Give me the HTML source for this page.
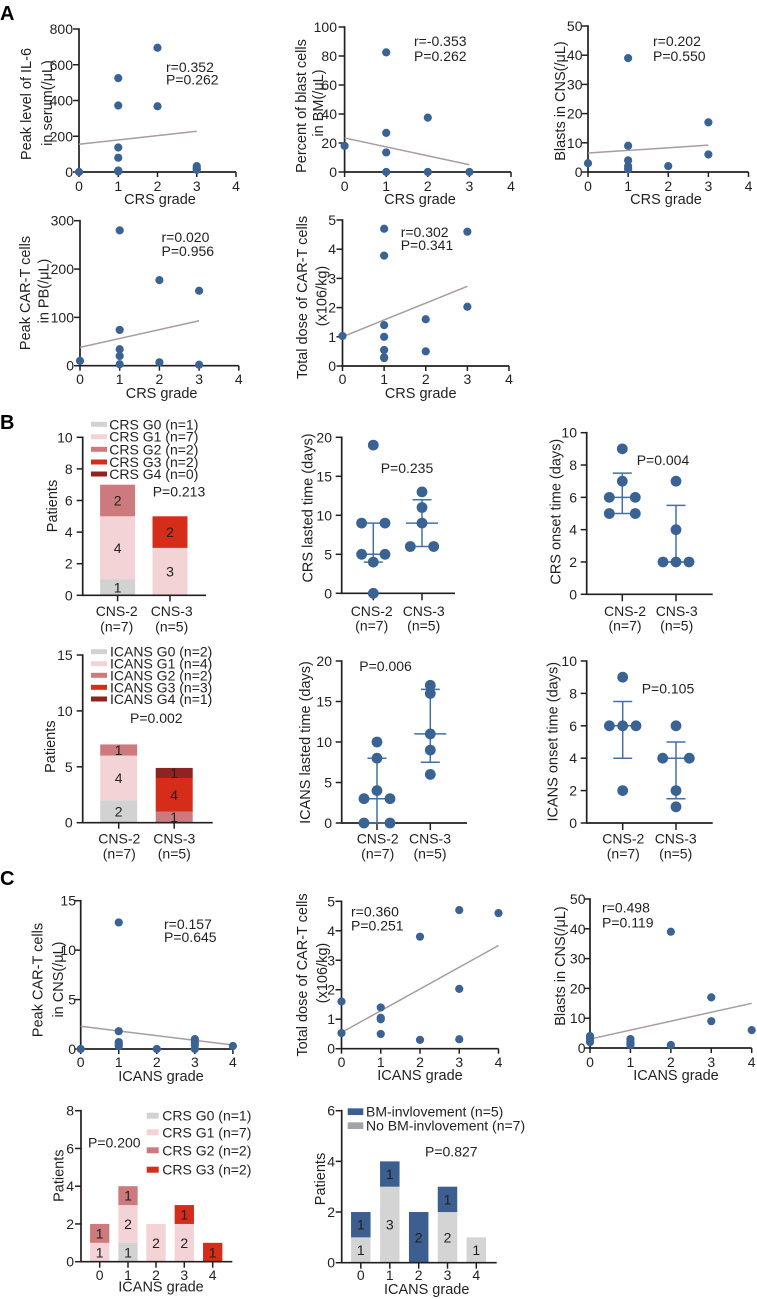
<!DOCTYPE html>
<html lang="en">
<head>
<meta charset="utf-8">
<title>CRS and ICANS correlation figure</title>
<style>
html,body{margin:0;padding:0;background:#fff;width:757px;height:1299px;overflow:hidden}
svg{display:block;font-family:"Liberation Sans",sans-serif;font-size:14px;fill:#231f20}
</style>
</head>
<body>
<svg id="fig" xmlns="http://www.w3.org/2000/svg" width="757" height="1299" viewBox="0 0 757 1299"></svg>
<script>
/* ---------- shared tick / category arrays ---------- */
const gradeTicks = [0, 1, 2, 3, 4];
const cnsCategories = ["CNS-2", "CNS-3"];
const cnsCounts = ["(n=7)", "(n=5)"];

/* ---------- panel A ---------- */
const a1X = [0, 1, 1, 1, 1, 1, 1, 2, 2, 3, 3, 3];
const a1Y = [0, 525, 372, 137, 80, 8, 3, 695, 368, 33, 20, 12];
const a1FitX = [0, 3];
const a1FitY = [155, 228];
const a1Ticks = [0, 200, 400, 600, 800];

const a2X = [0, 1, 1, 1, 1, 2, 2, 3];
const a2Y = [18, 82.5, 27, 13.5, 0, 37.5, 0, 0];
const a2FitX = [0, 3];
const a2FitY = [23.5, 5];
const a2Ticks = [0, 20, 40, 60, 80, 100];

const a3X = [0, 1, 1, 1, 1, 1, 2, 3, 3];
const a3Y = [3, 39, 9, 4, 2, 1, 2, 17, 6];
const a3FitX = [0, 3];
const a3FitY = [6.5, 9.2];
const a3Ticks = [0, 10, 20, 30, 40, 50];

const a4X = [0, 1, 1, 1, 1, 1, 2, 2, 3, 3];
const a4Y = [10, 280, 74, 34, 20, 3, 177, 7, 155, 2];
const a4FitX = [0, 3];
const a4FitY = [38, 93];
const a4Ticks = [0, 100, 200, 300];

const a5X = [0, 1, 1, 1, 1, 1, 1, 1, 2, 2, 3, 3];
const a5Y = [1.03, 4.7, 3.78, 1.4, 1.0, 0.55, 0.3, 0.27, 1.6, 0.5, 4.6, 2.03];
const a5FitX = [0, 3];
const a5FitY = [1.0, 2.73];
const a5Ticks = [0, 1, 2, 3, 4, 5];

/* ---------- panel B ---------- */
const b1G0 = [1, 0];
const b1G1 = [4, 3];
const b1G2 = [2, 0];
const b1G3 = [0, 2];
const b1Ticks = [0, 2, 4, 6, 8, 10];
const b1Legend = ["CRS G0 (n=1)", "CRS G1 (n=7)", "CRS G2 (n=2)", "CRS G3 (n=2)", "CRS G4 (n=0)"];

const b2Cns2 = [19, 9, 9, 5, 5, 4, 0];
const b2Cns3 = [13, 11, 9, 6, 6];
const b2Median = [5, 9];
const b2Lower = [4, 6];
const b2Upper = [9, 12];
const b2Ticks = [0, 5, 10, 15, 20];

const b3Cns2 = [9, 7, 6, 6, 5, 5];
const b3Cns3 = [7, 4, 2, 2, 2];
const b3Median = [6, 2];
const b3Lower = [5, 2];
const b3Upper = [7.5, 5.5];
const b3Ticks = [0, 2, 4, 6, 8, 10];

const b4G0 = [2, 0];
const b4G1 = [4, 0];
const b4G2 = [1, 1];
const b4G3 = [0, 3];
const b4G4 = [0, 0.9];
const b4G3Printed = ["", "4"];
const b4Ticks = [0, 5, 10, 15];
const b4Legend = ["ICANS G0 (n=2)", "ICANS G1 (n=4)", "ICANS G2 (n=2)", "ICANS G3 (n=3)", "ICANS G4 (n=1)"];

const b5Cns2 = [10, 8, 4, 3, 3, 0, 0];
const b5Cns3 = [17, 16, 11, 9, 6];
const b5Median = [3, 11];
const b5Lower = [0, 7.5];
const b5Upper = [8, 16.5];
const b5Ticks = [0, 5, 10, 15, 20];

const b6Cns2 = [9, 6, 6, 6, 2];
const b6Cns3 = [6, 4, 4, 2, 1];
const b6Median = [6, 4];
const b6Lower = [4, 1.5];
const b6Upper = [7.5, 5];
const b6Ticks = [0, 2, 4, 6, 8, 10];

/* ---------- panel C ---------- */
const c1X = [0, 1, 1, 1, 1, 1, 2, 3, 3, 3, 3, 4];
const c1Y = [0, 12.8, 1.8, 0.7, 0.5, 0.3, 0, 1, 0.7, 0.4, 0, 0.3];
const c1FitX = [0, 4];
const c1FitY = [2.3, 0.4];
const c1Ticks = [0, 5, 10, 15];

const c2X = [0, 0, 1, 1, 1, 1, 2, 2, 3, 3, 3, 4];
const c2Y = [1.6, 0.53, 1.4, 1.05, 1, 0.5, 3.8, 0.3, 4.7, 2.03, 0.32, 4.6];
const c2FitX = [0, 4];
const c2FitY = [0.55, 3.5];
const c2Ticks = [0, 1, 2, 3, 4, 5];

const c3X = [0, 0, 0, 1, 1, 1, 1, 2, 2, 3, 3, 4];
const c3Y = [4, 3, 2, 3, 2, 1.5, 1, 39, 1, 17, 9, 6];
const c3FitX = [0, 4];
const c3FitY = [3, 15];
const c3Ticks = [0, 10, 20, 30, 40, 50];

const c4G0 = [0, 1, 0, 0, 0];
const c4G1 = [1, 2, 2, 2, 0];
const c4G2 = [1, 1, 0, 0, 0];
const c4G3 = [0, 0, 0, 1, 1];
const c4Ticks = [0, 2, 4, 6, 8];
const c4Legend = ["CRS G0 (n=1)", "CRS G1 (n=7)", "CRS G2 (n=2)", "CRS G3 (n=2)"];

const c5NoBm = [1, 3, 0, 2, 1];
const c5Bm = [1, 1, 2, 1, 0];
const c5Ticks = [0, 2, 4, 6];
const c5Legend = ["BM-invlovement (n=5)", "No BM-invlovement (n=7)"];

/* ---------- styling ---------- */
const INK = "#231f20", DOT = "#3a6393", FIT = "#a99b9f", ERR = "#4470a3";
const G0 = "#d2d2d2", G1 = "#f3d3d6", G2 = "#cc7a7e", G3 = "#d62c1a", G4 = "#8f2321";
const BM = "#3c5f8f", NOBM = "#d4d4d4", NOBMKEY = "#a3a3a7";
const NS = "http://www.w3.org/2000/svg";
const root = document.getElementById("fig");

function el(parent, tag, attrs, name) {
  const e = document.createElementNS(NS, tag);
  for (const k in attrs) e.setAttribute(k, attrs[k]);
  
  
  parent.appendChild(e);
  return e;
}
function txt(parent, str, x, y, anchor, name, extra) {
  const e = el(parent, "text", Object.assign({x: x, y: y, "text-anchor": anchor || "start"}, extra || {}), name);
  e.textContent = str;
  return e;
}
function vtxt(parent, str, x, cy, name) {
  return txt(parent, str, x, cy, "middle", name, {transform: "rotate(-90 " + x + " " + cy + ")", "font-size": "14.5"});
}
function group(name) { return el(root, "g", {}, name); }
function line(parent, x1, y1, x2, y2, stroke, w, name) {
  return el(parent, "line", {x1: x1, y1: y1, x2: x2, y2: y2, stroke: stroke, "stroke-width": w}, name);
}
function linScale(d0, d1, r0, r1) { return v => r0 + (v - d0) / (d1 - d0) * (r1 - r0); }

function yAxis(g, axisX, yScale, ticks, labelRight, top, bottom) {
  line(g, axisX, top - 0.8, axisX, bottom + 0.8, INK, 1.7, "y-axis-line");
  ticks.forEach(t => {
    const y = yScale(t);
    line(g, axisX - 6, y, axisX, y, INK, 1.5, "y-tick");
    txt(g, String(t), labelRight, y + 5, "end", "y-tick-label");
  });
}

/* scatter with regression line */
function scatter(name, c, xs, ys, fitX, fitY, yTicks) {
  const g = group(name);
  const sx = linScale(0, 4, c.x0, c.x4);
  const sy = linScale(yTicks[0], yTicks[yTicks.length - 1], c.y0, c.top);
  yAxis(g, c.x0, sy, yTicks, c.labelRight, c.top, c.y0);
  line(g, c.x0, c.y0, c.x4, c.y0, INK, 1.7, "x-axis-line");
  gradeTicks.forEach(t => {
    line(g, sx(t), c.y0, sx(t), c.y0 + 5, INK, 1.5, "x-tick");
    txt(g, String(t), sx(t), c.tickBase, "middle", "x-tick-label");
  });
  line(g, sx(fitX[0]), sy(fitY[0]), sx(fitX[1]), sy(fitY[1]), FIT, 1.5, "regression-line");
  xs.forEach((x, i) => {
    el(g, "ellipse", {cx: sx(x), cy: sy(ys[i]), rx: 4.1, ry: 4.1, fill: DOT}, "data-point");
  });
  txt(g, c.xTitle, c.titleX, c.titleBase, "middle", "x-axis-title", {"font-size": "14.5"});
  c.yTitle.forEach(t => vtxt(g, t[0], t[1], t[2], "y-axis-title"));
  txt(g, c.r, c.statX, c.statY[0], "start", "correlation-r");
  txt(g, c.p, c.statX, c.statY[1], "start", "p-value");
}

/* dot plot with median and interquartile bars */
function swarmOffsets(vals, spread) {
  return vals.map((v, i) => {
    const same = vals.map((o, j) => o === v ? j : -1).filter(j => j >= 0);
    const k = same.indexOf(i), n = same.length;
    if (n === 1) return 0;
    if (n === 2) return k === 0 ? -spread : spread;
    return (k - (n - 1) / 2) * spread;
  });
}
function dotPlot(name, c, groups, medians, lowers, uppers, yTicks) {
  const g = group(name);
  const sy = linScale(yTicks[0], yTicks[yTicks.length - 1], c.y0, c.top);
  yAxis(g, c.x0, sy, yTicks, c.labelRight, c.top, c.y0);
  line(g, c.x0, c.y0, c.xEnd, c.y0, INK, 1.7, "x-axis-line");
  cnsCategories.forEach((cat, i) => {
    line(g, c.cats[i], c.y0, c.cats[i], c.y0 + 7, INK, 1.5, "x-tick");
    txt(g, cat, c.labelX[i], c.catBase[0], "middle", "category-label");
    txt(g, cnsCounts[i], c.labelX[i], c.catBase[1], "middle", "category-count");
    line(g, c.cats[i], sy(uppers[i]), c.cats[i], sy(lowers[i]), ERR, 1.5, "error-bar-stem");
    line(g, c.cats[i] - 9.5, sy(uppers[i]), c.cats[i] + 9.5, sy(uppers[i]), ERR, 1.5, "error-bar-upper-cap");
    line(g, c.cats[i] - 9.5, sy(lowers[i]), c.cats[i] + 9.5, sy(lowers[i]), ERR, 1.5, "error-bar-lower-cap");
    line(g, c.cats[i] - 16, sy(medians[i]), c.cats[i] + 16, sy(medians[i]), ERR, 1.5, "median-line");
    const off = swarmOffsets(groups[i], c.spread);
    groups[i].forEach((v, j) => {
      el(g, "circle", {cx: c.cats[i] + off[j], cy: sy(v), r: 5.4, fill: DOT}, "data-point");
    });
  });
  vtxt(g, c.yTitle[0], c.yTitle[1], c.yTitle[2], "y-axis-title");
  txt(g, c.p, c.pX, c.pY, "start", "p-value");
}

/* stacked bars */
function stacked(name, c, cats, series, yTicks) {
  const g = group(name);
  const sy = linScale(yTicks[0], yTicks[yTicks.length - 1], c.y0, c.top);
  cats.forEach((cat, i) => {
    let base = 0;
    series.forEach(s => {
      const v = s.values[i];
      if (!v) return;
      el(g, "rect", {x: c.barX[i] - c.barW / 2, y: sy(base + v), width: c.barW, height: sy(base) - sy(base + v), fill: s.color}, "bar-segment");
      const printed = s.printed ? s.printed[i] : String(Math.ceil(v));
      txt(g, printed, c.barX[i], (sy(base) + sy(base + v)) / 2 + 5, "middle", "bar-value-label");
      base += v;
    });
  });
  yAxis(g, c.x0, sy, yTicks, c.labelRight, c.top, c.y0);
  line(g, c.x0, c.y0, c.xEnd, c.y0, INK, 1.7, "x-axis-line");
  cats.forEach((cat, i) => {
    line(g, c.barX[i], c.y0, c.barX[i], c.y0 + 6, INK, 1.5, "x-tick");
    txt(g, cat, c.labelX[i], c.catBase[0], "middle", "category-label");
    if (c.counts) txt(g, c.counts[i], c.labelX[i], c.catBase[1], "middle", "category-count");
  });
  if (c.xTitle) txt(g, c.xTitle, c.titleX, c.titleBase, "middle", "x-axis-title", {"font-size": "14.5"});
  vtxt(g, c.yTitle[0], c.yTitle[1], c.yTitle[2], "y-axis-title");
  txt(g, c.p, c.pX, c.pY, "start", "p-value");
  c.legend.labels.forEach((lab, i) => {
    const ly = c.legend.ys[i];
    el(g, "rect", {x: c.legend.x, y: ly - c.legend.h / 2, width: c.legend.w, height: c.legend.h, fill: c.legend.colors[i]}, "legend-swatch");
    txt(g, lab, c.legend.textX[i] !== undefined ? c.legend.textX[i] : c.legend.textX[0], ly + 5, "start", "legend-entry");
  });
}

/* ---------- panel letters ---------- */
[["A", 20], ["B", 429], ["C", 885]].forEach(p => {
  txt(root, p[0], 0, p[1], "start", "panel-label", {"font-size": "20", "font-weight": "bold", fill: "#000"});
});

/* ---------- panel A ---------- */
scatter("il6-vs-crs", {x0: 79, x4: 236, y0: 172, top: 29, labelRight: 73, tickBase: 191,
  xTitle: "CRS grade", titleX: 160, titleBase: 204, r: "r=0.352", p: "P=0.262", statX: 166, statY: [72, 84.5],
  yTitle: [["Peak level of IL-6", 31, 104], ["in serum(/μL)", 52, 103]]},
  a1X, a1Y, a1FitX, a1FitY, a1Ticks);
scatter("bm-blasts-vs-crs", {x0: 344.6, x4: 511, y0: 172, top: 27, labelRight: 337, tickBase: 191,
  xTitle: "CRS grade", titleX: 420, titleBase: 204, r: "r=-0.353", p: "P=0.262", statX: 414, statY: [46, 61],
  yTitle: [["Percent of blast cells", 306, 106], ["in BM(/μL)", 323, 103]]},
  a2X, a2Y, a2FitX, a2FitY, a2Ticks);
scatter("cns-blasts-vs-crs", {x0: 588, x4: 748.5, y0: 172, top: 26, labelRight: 582.5, tickBase: 191,
  xTitle: "CRS grade", titleX: 666, titleBase: 204, r: "r=0.202", p: "P=0.550", statX: 653, statY: [46, 61],
  yTitle: [["Blasts in CNS(/μL)", 565, 101]]},
  a3X, a3Y, a3FitX, a3FitY, a3Ticks);
scatter("peak-cart-pb-vs-crs", {x0: 80, x4: 238.8, y0: 365.7, top: 220.7, labelRight: 74, tickBase: 384,
  xTitle: "CRS grade", titleX: 161.6, titleBase: 398, r: "r=0.020", p: "P=0.956", statX: 161.5, statY: [242, 256],
  yTitle: [["Peak CAR-T cells", 30, 293], ["in PB(/μL)", 48.6, 291]]},
  a4X, a4Y, a4FitX, a4FitY, a4Ticks);
scatter("dose-vs-crs", {x0: 342.5, x4: 509, y0: 366, top: 220, labelRight: 336, tickBase: 384,
  xTitle: "CRS grade", titleX: 420.7, titleBase: 398, r: "r=0.302", p: "P=0.341", statX: 400.7, statY: [237, 250],
  yTitle: [["Total dose of CAR-T cells", 307, 297.5], ["(x106/kg)", 326.5, 296]]},
  a5X, a5Y, a5FitX, a5FitY, a5Ticks);

/* ---------- panel B ---------- */
stacked("crs-grade-stacked-bars", {x0: 82.7, xEnd: 206, y0: 595.3, top: 437.3, labelRight: 72.7,
  barX: [117.6, 170], barW: 35, labelX: [116.7, 171.7], catBase: [616, 631.7], counts: cnsCounts,
  yTitle: ["Patients", 57, 506], p: "P=0.213", pX: 152.7, pY: 496.7,
  legend: {x: 91, w: 16, h: 5, ys: [424.3, 436.7, 449.3, 462, 474], labels: b1Legend, colors: [G0, G1, G2, G3, G4], textX: [109.3]}},
  cnsCategories, [{values: b1G0, color: G0}, {values: b1G1, color: G1}, {values: b1G2, color: G2}, {values: b1G3, color: G3}], b1Ticks);

dotPlot("crs-lasted-time", {x0: 341.7, xEnd: 455, y0: 593.3, top: 437.3, labelRight: 332, cats: [373.3, 422], labelX: [371.7, 423.7],
  catBase: [616, 630.7], spread: 11.7, yTitle: ["CRS lasted time (days)", 312.7, 508], p: "P=0.235", pX: 380.7, pY: 473},
  [b2Cns2, b2Cns3], b2Median, b2Lower, b2Upper, b2Ticks);

dotPlot("crs-onset-time", {x0: 586.7, xEnd: 712.7, y0: 594.3, top: 432.7, labelRight: 577, cats: [622.3, 676], labelX: [625, 676.7],
  catBase: [616, 630.7], spread: 13, yTitle: ["CRS onset time (days)", 560.7, 511.7], p: "P=0.004", pX: 636.7, pY: 465},
  [b3Cns2, b3Cns3], b3Median, b3Lower, b3Upper, b3Ticks);

stacked("icans-grade-stacked-bars", {x0: 82.7, xEnd: 212.7, y0: 822.7, top: 655, labelRight: 72.7,
  barX: [118.7, 174.2], barW: 37, labelX: [119.3, 174.3], catBase: [843.3, 858.3], counts: cnsCounts,
  yTitle: ["Patients", 55, 746.7], p: "P=0.002", pX: 130, pY: 723,
  legend: {x: 91, w: 16, h: 5, ys: [651.7, 663.7, 675.3, 687.3, 699], labels: b4Legend, colors: [G0, G1, G2, G3, G4], textX: [110]}},
  cnsCategories, [{values: b4G0, color: G0}, {values: b4G1, color: G1}, {values: b4G2, color: G2},
    {values: b4G3, color: G3, printed: b4G3Printed}, {values: b4G4, color: G4}], b4Ticks);

dotPlot("icans-lasted-time", {x0: 341.7, xEnd: 467, y0: 823, top: 661, labelRight: 332, cats: [377, 430.3], labelX: [377.7, 430],
  catBase: [843.7, 858.3], spread: 13, yTitle: ["ICANS lasted time (days)", 310, 742.5], p: "P=0.006", pX: 359.3, pY: 671},
  [b5Cns2, b5Cns3], b5Median, b5Lower, b5Upper, b5Ticks);

dotPlot("icans-onset-time", {x0: 586.7, xEnd: 712.7, y0: 823, top: 661, labelRight: 577, cats: [622.7, 676], labelX: [623.3, 675.7],
  catBase: [843.7, 858.3], spread: 13.3, yTitle: ["ICANS onset time (days)", 557.3, 741.7], p: "P=0.105", pX: 641.7, pY: 693.3},
  [b6Cns2, b6Cns3], b6Median, b6Lower, b6Upper, b6Ticks);

/* ---------- panel C ---------- */
scatter("peak-cart-cns-vs-icans", {x0: 80.7, x4: 232.9, y0: 1049, top: 900.7, labelRight: 76, tickBase: 1067,
  xTitle: "ICANS grade", titleX: 161, titleBase: 1081, r: "r=0.157", p: "P=0.645", statX: 164, statY: [929, 942],
  yTitle: [["Peak CAR-T cells", 42.5, 980], ["in CNS(/μL)", 62.8, 979.5]]},
  c1X, c1Y, c1FitX, c1FitY, c1Ticks);
scatter("dose-vs-icans", {x0: 341.5, x4: 498.5, y0: 1048.7, top: 901.3, labelRight: 335, tickBase: 1067,
  xTitle: "ICANS grade", titleX: 420, titleBase: 1080, r: "r=0.360", p: "P=0.251", statX: 351, statY: [916.7, 930.7],
  yTitle: [["Total dose of CAR-T cells", 306.8, 975], ["(x106/kg)", 327, 973]]},
  c2X, c2Y, c2FitX, c2FitY, c2Ticks);
scatter("cns-blasts-vs-icans", {x0: 590, x4: 751.7, y0: 1048, top: 899, labelRight: 585.5, tickBase: 1067,
  xTitle: "ICANS grade", titleX: 676, titleBase: 1080, r: "r=0.498", p: "P=0.119", statX: 602, statY: [912.7, 927.3],
  yTitle: [["Blasts in CNS(/μL)", 565, 966]]},
  c3X, c3Y, c3FitX, c3FitY, c3Ticks);

stacked("crs-by-icans-stacked-bars", {x0: 81, xEnd: 232.3, y0: 1261.7, top: 1110.7, labelRight: 74,
  barX: [99.7, 128, 156, 184.3, 212.7], barW: 19.3, labelX: [99.7, 128, 156, 184.3, 212.7], catBase: [1280],
  xTitle: "ICANS grade", titleX: 161, titleBase: 1291.7,
  yTitle: ["Patients", 63.3, 1175.7], p: "P=0.200", pX: 88, pY: 1147.3,
  legend: {x: 146.7, w: 12, h: 6, ys: [1115.7, 1132.3, 1150.3, 1169.7], labels: c4Legend, colors: [G0, G1, G2, G3], textX: [162.3]}},
  gradeTicks, [{values: c4G0, color: G0}, {values: c4G1, color: G1}, {values: c4G2, color: G2}, {values: c4G3, color: G3}], c4Ticks);

stacked("bm-by-icans-stacked-bars", {x0: 341.7, xEnd: 496.7, y0: 1262.7, top: 1110.7, labelRight: 335,
  barX: [360.8, 389.8, 418.7, 447.5, 476.3], barW: 19.5, labelX: [360.8, 389.8, 418.7, 447.5, 476.3], catBase: [1280],
  xTitle: "ICANS grade", titleX: 426.7, titleBase: 1294,
  yTitle: ["Patients", 325, 1179], p: "P=0.827", pX: 425, pY: 1156.7,
  legend: {x: 347.7, w: 15.6, h: 6.7, ys: [1111.7, 1125.7], labels: c5Legend, colors: [BM, NOBMKEY], textX: [366]}},
  gradeTicks, [{values: c5NoBm, color: NOBM}, {values: c5Bm, color: BM}], c5Ticks);
</script>
</body>
</html>
